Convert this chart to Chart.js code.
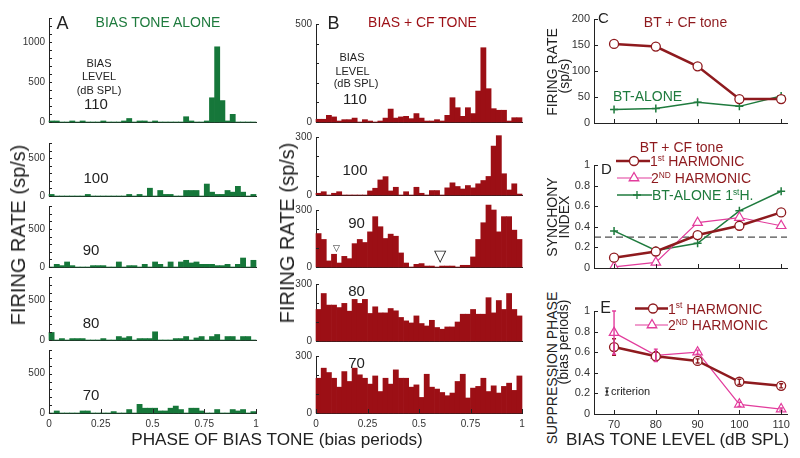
<!DOCTYPE html>
<html>
<head>
<meta charset="utf-8">
<script src="https://cdn.jsdelivr.net/npm/chart.js@4/dist/chart.umd.min.js"></script>
<style>
  body { margin: 0; background: #fff; }
  #fig { position: relative; width: 800px; height: 458px; overflow: hidden;
         font-family: 'Liberation Sans', Arial, sans-serif; }
  #fig canvas { position: absolute; }
  .t { position: absolute; white-space: nowrap; line-height: 1; }
  .t sup { font-size: 0.6em; vertical-align: baseline; position: relative; top: -0.6em; }
</style>
</head>
<body>
<div id="fig"></div>
<script>
// =============================================
// データ
// =============================================
const phaseTicks = [0, 0.25, 0.5, 0.75, 1]
const histLevels = [110, 100, 90, 80, 70]
const levels     = [70, 80, 90, 100, 110]

// A: bias tone alone, firing rate per 1/40 period bin (sp/s)
const alone110 = [13,13,0,0,13,0,13,0,0,0, 13,0,0,0,13,44,0,13,13,0, 13,0,0,0,0,0,66,13,0,0, 13,303,940,268,13,96,0,0,0,0]
const alone100 = [21,0,0,0,0,0,0,21,0,0, 0,0,0,0,0,21,0,21,0,103, 0,73,21,21,0,0,73,73,73,0, 158,51,21,21,73,51,128,51,0,21]
const alone90  = [0,35,18,66,18,0,0,0,18,18, 18,0,0,66,0,18,18,0,35,0, 66,35,0,66,0,66,88,53,66,35, 35,35,18,18,35,0,35,118,0,88]
const alone80  = [96,0,18,0,18,18,18,0,0,0, 18,0,0,44,26,44,0,18,18,18, 104,0,0,0,18,18,44,0,26,44, 0,44,70,0,44,44,0,44,44,0]
const alone70  = [0,26,0,0,0,0,26,26,0,0, 0,0,18,0,0,44,0,110,61,61, 61,26,26,61,88,44,0,61,61,26, 0,0,44,0,0,44,26,44,0,18]

// B: bias + CF tone
const cf110 = [14,14,34,26,5,12,12,20,0,12, 5,0,5,20,66,20,26,29,17,43, 20,5,5,12,5,34,124,73,29,73, 43,158,379,170,68,60,60,5,22,22]
const cf100 = [9,17,0,9,17,0,0,0,0,0, 21,35,78,95,21,40,0,17,0,40, 9,0,23,23,0,37,63,44,31,49, 37,58,75,96,253,307,110,26,58,5]
const cf90  = [176,145,32,67,21,56,44,123,145,129, 185,265,212,150,173,162,74,21,0,14, 18,5,5,0,5,5,5,0,9,9, 53,145,233,326,300,185,265,265,194,145]
const cf80  = [166,250,189,189,176,198,157,219,198,219, 145,180,148,148,171,159,124,106,95,132, 92,79,109,71,62,74,74,100,141,141, 166,141,141,228,148,213,166,250,166,132]
const cf70  = [183,236,213,183,136,218,166,236,201,183, 152,195,113,183,152,227,183,183,136,148, 82,204,136,126,108,91,105,166,204,79, 131,140,183,113,143,105,140,157,119,195]

// C: mean firing rate (sp/s)
const rateCF    = [152, 147, 109, 46, 46]
const rateAlone = [26, 28, 40, 32, 52]

// D: synchrony index
const syncH1    = [0.10, 0.16, 0.32, 0.41, 0.54]
const syncH2    = [0.01, 0.055, 0.44, 0.49, 0.41]
const syncAlone = [0.36, 0.17, 0.24, 0.555, 0.745]
const syncCriterion = 0.3

// E: suppression phase (bias periods)
const phaseH1    = [0.65, 0.56, 0.515, 0.313, 0.274]
const phaseH1Err = [0.08, 0.045, 0.02, 0.025, 0.02]
const phaseH2    = [0.79, 0.57, 0.60, 0.094, 0.048]
const phaseH2Err = [0.21, 0.06, 0.02, 0.02, 0.01]
const criterionLevel = 68.3, criterionPhase = 0.218, criterionErr = 0.035

// =============================================
// 色・レイアウト
// =============================================
const RED = '#8e1a1e', BAR_RED = '#9c0f15', PINK = '#e23c9c'
const GREEN = '#1f7b3e', BAR_GREEN = '#16773a', INK = '#222'
const X_MIN = 65.2, X_MAX = 111.4

const rowBoxesA = [[18, 122], [143, 196], [206, 267], [277, 340], [350, 413]]
const rowBoxesB = [[24, 122], [137, 195], [210, 267], [284, 341], [356, 413]]

Chart.defaults.font.family = "'Liberation Sans', Arial, sans-serif"
Chart.defaults.color = '#333'

const fig = document.getElementById('fig')

// =============================================
// プラグイン
// =============================================
// 内向きの目盛り線
const innerTicks = {
  id: 'innerTicks',
  afterDraw(chart, args, opts) {
    const { ctx, chartArea: a } = chart
    ctx.save()
    ctx.strokeStyle = INK
    ctx.lineWidth = 1
    ctx.beginPath()
    if (opts.y) for (const t of chart.scales.y.ticks) {
      const py = Math.round(chart.scales.y.getPixelForValue(t.value)) + 0.5
      ctx.moveTo(a.left, py); ctx.lineTo(a.left + opts.y, py)
    }
    if (opts.x) for (const t of chart.scales.x.ticks) {
      const px = Math.round(chart.scales.x.getPixelForValue(t.value)) + 0.5
      ctx.moveTo(px, a.bottom); ctx.lineTo(px, a.bottom - opts.x)
    }
    ctx.stroke()
    ctx.restore()
  }
}

function drawMarker(ctx, style, x, y, r, color, lw) {
  ctx.save()
  ctx.strokeStyle = color
  ctx.fillStyle = '#fff'
  ctx.lineWidth = lw
  ctx.beginPath()
  if (style === 'circle') {
    ctx.arc(x, y, r, 0, Math.PI * 2)
    ctx.fill(); ctx.stroke()
  } else if (style === 'triangle') {
    for (let k = 0; k < 3; k++) {
      const a = k * 2 * Math.PI / 3
      const px = x + Math.sin(a) * r, py = y - Math.cos(a) * r
      k ? ctx.lineTo(px, py) : ctx.moveTo(px, py)
    }
    ctx.closePath()
    ctx.fill(); ctx.stroke()
  } else {
    ctx.moveTo(x - r, y); ctx.lineTo(x + r, y)
    ctx.moveTo(x, y - r); ctx.lineTo(x, y + r)
    ctx.stroke()
  }
  ctx.restore()
}

// 凡例の線＋マーカー見本（ページ座標で指定）
const sampleLegend = {
  id: 'sampleLegend',
  afterDraw(chart, args, opts) {
    if (!opts.items) return
    const ctx = chart.ctx
    const ox = parseFloat(chart.canvas.style.left), oy = parseFloat(chart.canvas.style.top)
    for (const it of opts.items) {
      const y = it.y - oy
      ctx.save()
      ctx.strokeStyle = it.color
      ctx.lineWidth = it.width
      ctx.beginPath()
      ctx.moveTo(it.x0 - ox, y); ctx.lineTo(it.x1 - ox, y)
      ctx.stroke()
      ctx.restore()
      drawMarker(ctx, it.style, it.mx - ox, y, it.r, it.color, 1.3)
    }
  }
}

// エラーバーと criterion
const errorBars = {
  id: 'errorBars',
  afterDatasetsDraw(chart, args, opts) {
    const { ctx, scales: { x, y } } = chart
    const bar = (px, lo, hi, color, lw) => {
      const y0 = y.getPixelForValue(lo), y1 = y.getPixelForValue(hi)
      ctx.save()
      ctx.strokeStyle = color
      ctx.lineWidth = lw
      ctx.beginPath()
      ctx.moveTo(px, y0); ctx.lineTo(px, y1)
      ctx.moveTo(px - 2, y0); ctx.lineTo(px + 2, y0)
      ctx.moveTo(px - 2, y1); ctx.lineTo(px + 2, y1)
      ctx.stroke()
      ctx.restore()
    }
    chart.data.datasets.forEach(ds => {
      if (!ds.errors) return
      ds.data.forEach((p, i) => bar(x.getPixelForValue(p.x), p.y - ds.errors[i], p.y + ds.errors[i], ds.borderColor, 1.4))
    })
    if (opts.criterion) {
      const c = opts.criterion
      const px = x.getPixelForValue(c.x)
      bar(px, c.y - c.err, c.y + c.err, INK, 1)
      ctx.save()
      ctx.fillStyle = INK
      ctx.beginPath()
      ctx.arc(px, y.getPixelForValue(c.y), 1.3, 0, Math.PI * 2)
      ctx.fill()
      ctx.restore()
    }
  }
}

// =============================================
// テキスト
// =============================================
function addText(html, x, y, { size = 14, color = INK, align = 'center', rotate = false } = {}) {
  const el = document.createElement('div')
  el.className = 't'
  el.innerHTML = html
  el.style.left = x + 'px'
  el.style.top = y + 'px'
  el.style.fontSize = size + 'px'
  el.style.color = color
  el.style.transform = `translate(${align === 'left' ? '0' : '-50%'},-50%)` + (rotate ? ' rotate(-90deg)' : '')
  fig.appendChild(el)
}

function makeCanvas(left, top, w, h) {
  const c = document.createElement('canvas')
  c.width = w; c.height = h
  c.style.left = left + 'px'
  c.style.top = top + 'px'
  fig.appendChild(c)
  return c
}

// =============================================
// ヒストグラム
// =============================================
// 目盛りラベルの余白 (半行高 + padding) より大きく取る
function histChart(plotLeft, plotW, box, values, yMax, labeled, color, bottomRow) {
  const AXIS_W = 38, PAD_T = 14, PAD_R = 8
  const bottomH = bottomRow ? 18 : 12
  const plotH = box[1] - box[0]
  const canvas = makeCanvas(plotLeft - AXIS_W, box[0] - PAD_T, AXIS_W + plotW + PAD_R, PAD_T + plotH + bottomH)
  const n = values.length

  new Chart(canvas, {
    type: 'bar',
    data: {
      datasets: [{
        data: values.map((v, i) => ({ x: (i + 0.5) / n, y: v })),
        backgroundColor: color,
        borderWidth: 0,
        barPercentage: 1, categoryPercentage: 1,
        clip: false,
      }]
    },
    options: {
      responsive: false, animation: false,
      layout: { padding: { top: PAD_T, right: PAD_R, left: 0, bottom: 0 } },
      plugins: { legend: { display: false }, tooltip: { enabled: false },
                 innerTicks: { y: 3, x: bottomRow ? 4 : 0 } },
      scales: {
        x: {
          type: 'linear', min: 0, max: 1, offset: false, z: 1,
          grid: { display: false, drawTicks: false },
          border: { color: INK, width: 1 },
          afterBuildTicks: s => { s.ticks = phaseTicks.map(v => ({ value: v })) },
          ticks: { display: bottomRow, autoSkip: false, maxRotation: 0, padding: 5, font: { size: 10 }, callback: v => String(v) },
          afterFit: s => { s.height = bottomH }
        },
        y: {
          min: 0, max: yMax, z: 1,
          grid: { display: false, drawTicks: false },
          border: { color: INK, width: 1 },
          afterBuildTicks: s => {
            const t = []
            for (let v = 0; v <= yMax; v += 100) t.push({ value: v })
            s.ticks = t
          },
          ticks: { autoSkip: false, padding: 4, font: { size: 10 }, callback: v => labeled.includes(v) ? String(v) : '' },
          afterFit: s => { s.width = AXIS_W }
        }
      }
    },
    plugins: [innerTicks]
  })
}

const aloneRows = [alone110, alone100, alone90, alone80, alone70]
const cfRows    = [cf110, cf100, cf90, cf80, cf70]
const aloneMax  = [1300, 700, 800, 800, 800]
const cfMax     = [500, 300, 300, 300, 300]
const aloneLabeled = [[0, 500, 1000], [0, 500], [0, 500], [0, 500], [0, 500]]
const cfLabeled    = [[0, 500], [0, 300], [0, 300], [0, 300], [0, 300]]

aloneRows.forEach((vals, i) => histChart(49, 207, rowBoxesA[i], vals, aloneMax[i], aloneLabeled[i], BAR_GREEN, i === 4))
cfRows.forEach((vals, i) => histChart(316, 206, rowBoxesB[i], vals, cfMax[i], cfLabeled[i], BAR_RED, i === 4))

// =============================================
// C / D / E 折れ線
// =============================================
const xy = (ys) => ys.map((v, i) => ({ x: levels[i], y: v }))

function lineChart(top, bottom, yMax, yTicks, datasets, showX, extra = {}) {
  const AXIS_W = 30, PAD_T = 13, PAD_R = 8, plotLeft = 594, plotW = 193
  const bottomH = showX ? 18 : 12
  const canvas = makeCanvas(plotLeft - AXIS_W, top - PAD_T, AXIS_W + plotW + PAD_R, PAD_T + (bottom - top) + bottomH)

  new Chart(canvas, {
    type: 'line',
    data: { datasets },
    options: {
      responsive: false, animation: false,
      layout: { padding: { top: PAD_T, right: PAD_R, left: 0, bottom: 0 } },
      elements: { line: { tension: 0, fill: false } },
      plugins: Object.assign({ legend: { display: false }, tooltip: { enabled: false },
                               innerTicks: { x: 4, y: 4 } }, extra),
      scales: {
        x: {
          type: 'linear', min: X_MIN, max: X_MAX, z: 1,
          grid: { display: false, drawTicks: false },
          border: { color: INK, width: 1 },
          afterBuildTicks: s => { s.ticks = levels.map(v => ({ value: v })) },
          ticks: { display: showX, autoSkip: false, maxRotation: 0, padding: 4, font: { size: 11 }, callback: v => String(v) },
          afterFit: s => { s.height = bottomH }
        },
        y: {
          min: 0, max: yMax, z: 1,
          grid: { display: false, drawTicks: false },
          border: { color: INK, width: 1 },
          afterBuildTicks: s => { s.ticks = yTicks.map(v => ({ value: v })) },
          ticks: { autoSkip: false, padding: 4, font: { size: 11 }, callback: v => String(v) },
          afterFit: s => { s.width = AXIS_W }
        }
      }
    },
    plugins: [innerTicks, errorBars, sampleLegend]
  })
}

const circle = (color, w) => ({ borderColor: color, borderWidth: w, pointStyle: 'circle', pointRadius: 4.5,
  pointBorderWidth: 1.3, pointBackgroundColor: '#fff', pointBorderColor: color })
const triangle = (color) => ({ borderColor: color, borderWidth: 1.2, pointStyle: 'triangle', pointRadius: 5.5,
  pointBorderWidth: 1.2, pointBackgroundColor: '#fff', pointBorderColor: color })
const cross = (color) => ({ borderColor: color, borderWidth: 1.5, pointStyle: 'cross', pointRadius: 4,
  pointBorderWidth: 1.5, pointBorderColor: color })

// C
lineChart(19, 123, 200, [0, 50, 100, 150, 200], [
  { data: xy(rateCF), ...circle(RED, 2.5), order: 1 },
  { data: xy(rateAlone), ...cross(GREEN), order: 2 },
], false)

// D
const unitTicks = [0, 0.2, 0.4, 0.6, 0.8, 1]
lineChart(165, 268, 1, unitTicks, [
  { data: [{ x: X_MIN, y: syncCriterion }, { x: X_MAX, y: syncCriterion }], borderColor: INK, borderWidth: 1,
    borderDash: [7, 4], pointRadius: 0, order: 4 },
  { data: xy(syncH1), ...circle(RED, 2.5), order: 1 },
  { data: xy(syncH2), ...triangle(PINK), order: 2 },
  { data: xy(syncAlone), ...cross(GREEN), order: 3 },
], false, {
  sampleLegend: { items: [
    { x0: 616, x1: 650, mx: 634, y: 161, color: RED, width: 2.5, style: 'circle', r: 4.5 },
    { x0: 617, x1: 652, mx: 634, y: 178, color: PINK, width: 1.2, style: 'triangle', r: 5.5 },
    { x0: 617, x1: 652, mx: 637, y: 195, color: GREEN, width: 1.5, style: 'cross', r: 4 },
  ] }
})

// E
lineChart(311, 414, 1, unitTicks, [
  { data: xy(phaseH1), errors: phaseH1Err, ...circle(RED, 2.5), order: 1 },
  { data: xy(phaseH2), errors: phaseH2Err, ...triangle(PINK), order: 2 },
], true, {
  errorBars: { criterion: { x: criterionLevel, y: criterionPhase, err: criterionErr } },
  sampleLegend: { items: [
    { x0: 635, x1: 668, mx: 653, y: 308.5, color: RED, width: 2.5, style: 'circle', r: 4.5 },
    { x0: 635, x1: 668, mx: 652, y: 325, color: PINK, width: 1.2, style: 'triangle', r: 5.5 },
  ] }
})

// =============================================
// 注記テキスト
// =============================================
addText('A', 62.5, 23, { size: 18 })
addText('BIAS TONE ALONE', 158, 22, { color: GREEN })
addText('BIAS', 99, 62.5, { size: 11 })
addText('LEVEL', 99, 76, { size: 11 })
addText('(dB SPL)', 99, 90, { size: 11 })
const aloneLabelPos = [[96, 103], [96, 176.5], [91, 248.5], [91, 321.5], [91, 393.5]]
histLevels.forEach((lv, i) => addText(String(lv), aloneLabelPos[i][0], aloneLabelPos[i][1], { size: 15 }))

addText('B', 333.5, 22.5, { size: 18 })
addText('BIAS + CF TONE', 422.5, 22, { color: BAR_RED })
addText('BIAS', 352, 57, { size: 11 })
addText('LEVEL', 352.5, 70.5, { size: 11 })
addText('(dB SPL)', 356, 83, { size: 11 })
const cfLabelPos = [[355, 97.5], [355, 169], [356.5, 221.5], [356.5, 289.5], [356.5, 361.5]]
histLevels.forEach((lv, i) => addText(String(lv), cfLabelPos[i][0], cfLabelPos[i][1], { size: 15 }))
addText('▽', 336.5, 247.5, { size: 9 })
addText('▽', 440, 256, { size: 16 })

addText('FIRING RATE (sp/s)', 17.5, 235, { size: 20, rotate: true })
addText('FIRING RATE (sp/s)', 286.5, 233, { size: 20, rotate: true })
addText('PHASE OF BIAS TONE (bias periods)', 277, 440, { size: 17.2 })

addText('C', 603.5, 16.5, { size: 15 })
addText('BT + CF tone', 685.5, 22, { color: RED })
addText('BT-ALONE', 647.5, 96, { color: GREEN })
addText('FIRING RATE', 552, 72, { rotate: true })
addText('(sp/s)', 563.5, 76, { rotate: true })

addText('BT + CF tone', 681.5, 147, { color: RED })
addText('D', 606.5, 167.5, { size: 15 })
addText('1<sup>st</sup> HARMONIC', 650, 161, { color: RED, align: 'left' })
addText('2<sup>ND</sup> HARMONIC', 651, 178, { color: RED, align: 'left' })
addText('BT-ALONE 1<sup>st</sup>H.', 652, 195, { color: GREEN, align: 'left' })
addText('SYNCHONY', 552, 217, { rotate: true })
addText('INDEX', 563.5, 217, { rotate: true })

addText('E', 605.5, 307.5, { size: 16 })
addText('1<sup>st</sup> HARMONIC', 668, 308.5, { color: RED, align: 'left' })
addText('2<sup>ND</sup> HARMONIC', 668, 325, { color: RED, align: 'left' })
addText('SUPPRESSION PHASE', 552, 368, { rotate: true })
addText('(bias periods)', 563, 342, { rotate: true })
addText('BIAS TONE LEVEL (dB SPL)', 677.5, 440, { size: 17.2 })
addText('criterion', 611, 391, { size: 11, align: 'left' })
</script>
</body>
</html>
